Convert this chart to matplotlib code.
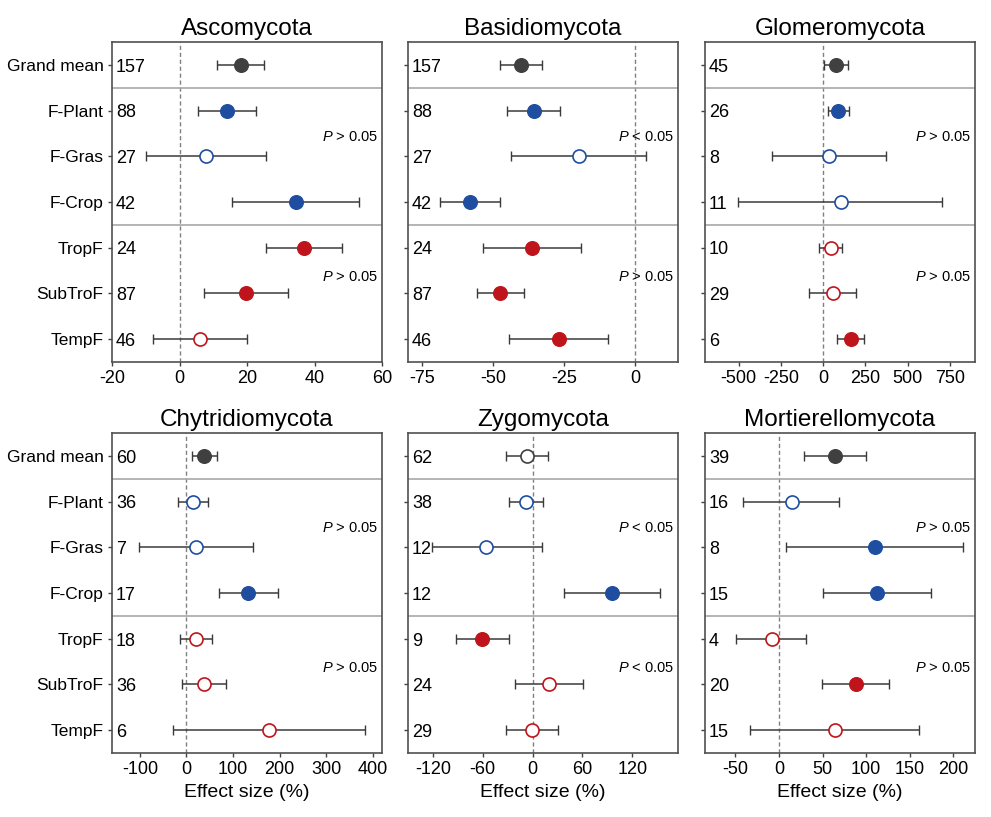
import numpy as np
import matplotlib
matplotlib.use('Agg')
import matplotlib.pyplot as plt

plt.rcParams['font.family'] = ['Liberation Sans', 'DejaVu Sans']
plt.rcParams['mathtext.fontset'] = 'custom'
plt.rcParams['mathtext.rm'] = 'Liberation Sans'
plt.rcParams['mathtext.it'] = 'Liberation Sans:italic'
plt.rcParams['axes.unicode_minus'] = False

rows = ['Grand mean', 'F-Plant', 'F-Gras', 'F-Crop', 'TropF', 'SubTroF', 'TempF']

# Ascomycota
asco_mean = [18.1, 14.1, 7.9, 34.4, 36.9, 19.7, 6.2]
asco_lo = [11.2, 5.5, -9.9, 15.5, 25.5, 7.2, -7.9]
asco_hi = [25.0, 22.7, 25.6, 53.2, 48.0, 32.0, 20.1]
asco_n = [157, 88, 27, 42, 24, 87, 46]
asco_sig = [1, 1, 0, 1, 1, 1, 0]
asco_p = ['>', '>']

# Basidiomycota
basi_mean = [-40.4, -35.8, -19.8, -58.3, -36.2, -47.5, -27.0]
basi_lo = [-47.8, -45.1, -43.7, -68.8, -53.7, -55.7, -44.3]
basi_hi = [-32.8, -26.4, 3.9, -47.8, -19.0, -39.3, -9.7]
basi_n = [157, 88, 27, 42, 24, 87, 46]
basi_sig = [1, 1, 0, 1, 1, 1, 1]
basi_p = ['<', '>']

# Glomeromycota
glom_mean = [79, 89, 36, 103, 44, 56, 166]
glom_lo = [4, 26, -302, -503, -27, -83, 85]
glom_hi = [148, 152, 371, 707, 111, 192, 243]
glom_n = [45, 26, 8, 11, 10, 29, 6]
glom_sig = [1, 1, 0, 0, 0, 0, 1]
glom_p = ['>', '>']

# Chytridiomycota
chyt_mean = [38.4, 14.5, 20.4, 132.3, 20.4, 37.7, 177.2]
chyt_lo = [12.4, -18.0, -102.6, 68.8, -13.7, -9.3, -28.9]
chyt_hi = [65.0, 47.0, 142.5, 196.7, 54.2, 84.6, 383.3]
chyt_n = [60, 36, 7, 17, 18, 36, 6]
chyt_sig = [1, 0, 0, 1, 0, 0, 0]
chyt_p = ['>', '>']

# Zygomycota
zygo_mean = [-7.3, -8.1, -55.6, 95.8, -60.9, 20.1, -0.4]
zygo_lo = [-32.6, -28.6, -121.3, 37.8, -92.7, -21.4, -32.6]
zygo_hi = [18.1, 12.8, 10.9, 153.8, -29.0, 61.2, 30.6]
zygo_n = [62, 38, 12, 12, 9, 24, 29]
zygo_sig = [0, 0, 0, 1, 1, 0, 0]
zygo_p = ['<', '<']

# Mortierellomycota
mort_mean = [64.8, 14.6, 110.3, 112.6, -8.4, 87.8, 63.7]
mort_lo = [28.7, -41.4, 8.4, 50.6, -49.0, 49.4, -32.9]
mort_hi = [99.6, 69.4, 211.5, 174.0, 31.4, 126.4, 160.2]
mort_n = [39, 16, 8, 15, 4, 20, 15]
mort_sig = [1, 0, 1, 1, 0, 1, 0]
mort_p = ['>', '>']

panels = [
    ('Ascomycota', asco_mean, asco_lo, asco_hi, asco_n, asco_sig, asco_p, (-20, 60), [-20, 0, 20, 40, 60]),
    ('Basidiomycota', basi_mean, basi_lo, basi_hi, basi_n, basi_sig, basi_p, (-80, 15), [-75, -50, -25, 0]),
    ('Glomeromycota', glom_mean, glom_lo, glom_hi, glom_n, glom_sig, glom_p, (-700, 900), [-500, -250, 0, 250, 500, 750]),
    ('Chytridiomycota', chyt_mean, chyt_lo, chyt_hi, chyt_n, chyt_sig, chyt_p, (-160, 420), [-100, 0, 100, 200, 300, 400]),
    ('Zygomycota', zygo_mean, zygo_lo, zygo_hi, zygo_n, zygo_sig, zygo_p, (-150, 175), [-120, -60, 0, 60, 120]),
    ('Mortierellomycota', mort_mean, mort_lo, mort_hi, mort_n, mort_sig, mort_p, (-85, 225), [-50, 0, 50, 100, 150, 200]),
]

grey = '#404040'
blue = '#1f4ea0'
red = '#c0141c'
row_colors = [grey, blue, blue, blue, red, red, red]

W, H = 991, 817
fig = plt.figure(figsize=(W / 100, H / 100), dpi=100)
lefts = [112, 408, 705]
tops = [42, 433]
aw, ah = 270, 320

for i, (name, mean, lo, hi, n, sig, pv, xl, xt) in enumerate(panels):
    r, c = divmod(i, 3)
    ax = fig.add_axes([lefts[c] / W, 1 - (tops[r] + ah) / H, aw / W, ah / H])
    y = np.arange(len(rows))
    mean = np.array(mean)
    err = [mean - np.array(lo), np.array(hi) - mean]
    ax.axvline(0, color='#808080', ls=(0, (3, 2)), lw=1.0, zorder=1)
    ax.axhline(0.5, color='#a8a8a8', lw=1.2, zorder=1)
    ax.axhline(3.5, color='#a8a8a8', lw=1.2, zorder=1)
    ax.errorbar(mean, y, xerr=err, fmt='none', ecolor='#3a3a3a', elinewidth=1.1,
                capsize=3.5, capthick=1.0, zorder=2)
    for k in range(len(rows)):
        col = row_colors[k]
        if sig[k]:
            ax.plot(mean[k], y[k], 'o', ms=9.8, mfc=col, mec=col, mew=1.0, zorder=3)
        else:
            ax.plot(mean[k], y[k], 'o', ms=9.4, mfc='white', mec=col, mew=1.2, zorder=3)
        ax.text(0.015, y[k] + 0.05, str(n[k]), transform=ax.get_yaxis_transform(),
                ha='left', va='center', fontsize=13)
    ax.text(0.985, 1.58, '$\\mathit{P}$ ' + pv[0] + ' 0.05', transform=ax.get_yaxis_transform(),
            ha='right', va='center', fontsize=10.5)
    ax.text(0.985, 4.64, '$\\mathit{P}$ ' + pv[1] + ' 0.05', transform=ax.get_yaxis_transform(),
            ha='right', va='center', fontsize=10.5)
    ax.set_xlim(xl)
    ax.set_xticks(xt)
    ax.set_ylim(6.5, -0.5)
    ax.set_yticks(y)
    ax.tick_params(axis='both', direction='out', length=3, width=1, color='#404040',
                   labelsize=13, pad=3)
    if c == 0:
        ax.set_yticklabels(rows, fontsize=12.5)
    else:
        ax.set_yticklabels([])
    for s in ax.spines.values():
        s.set_color('#505050')
        s.set_linewidth(1.2)
    ax.set_title(name, fontsize=17.5, pad=5)
    if r == 1:
        ax.set_xlabel('Effect size (%)', fontsize=14, labelpad=4)

fig.savefig('out.png', dpi=100)
